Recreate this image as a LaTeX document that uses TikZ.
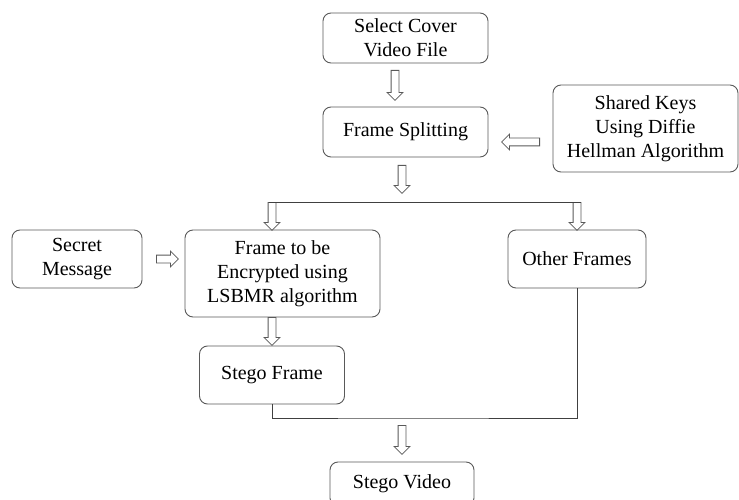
\documentclass[tikz,border=0pt]{standalone}
\usepackage{fontspec}
\setmainfont{Liberation Serif}
\usetikzlibrary{shapes.arrows}

\begin{document}
\begin{tikzpicture}[x=1pt, y=-1pt,
  box/.style={draw=black!65, line width=0.9pt, rounded corners=8pt, align=center,
    inner sep=2pt, font=\fontsize{20}{24}\selectfont},
  block/.style={single arrow, draw=black!65, line width=0.8pt, inner xsep=0pt,
    inner ysep=3.5pt, single arrow head extend=4pt, minimum width=0pt, anchor=tail}]
\useasboundingbox (0,0) rectangle (739,500);
\clip (0,0) rectangle (739,500);
\node     (select) at (405.5, 38)  [box, minimum width=165pt, minimum height=50pt] {Select Cover\\Video File};
\node      (split) at (405.5,132)  [box, minimum width=165pt, minimum height=50pt] {Frame Splitting};
\node       (keys) at (645.5,128.5)[box, minimum width=185pt, minimum height=87pt] {Shared Keys\\Using Diffie\\Hellman Algorithm};
\node     (secret) at (77, 259)    [box, minimum width=130pt, minimum height=58pt] {Secret\\Message};
\node    (encrypt) at (282.5,273.5)[box, minimum width=195pt, minimum height=87pt] {Frame to be\\Encrypted using\\LSBMR algorithm};
\node      (other) at (577, 259)   [box, minimum width=138pt, minimum height=58pt] {Other Frames};
\node (stegoframe) at (272, 375)   [box, minimum width=145pt, minimum height=58pt] {Stego Frame};
\node (stegovideo) at (402, 484)   [box, minimum width=144pt, minimum height=44pt] {Stego Video};
% block arrows
\node (a1) at (395, 70)  [block, rotate=-90, minimum height=30pt] {};
\node (a2) at (540,142)  [block, rotate=180, minimum height=38pt] {};
\node (a3) at (402,165)  [block, rotate=-90, minimum height=28pt] {};
\node (a4) at (272,202)  [block, rotate=-90, minimum height=28pt] {};
\node (a5) at (577,202)  [block, rotate=-90, minimum height=28pt] {};
\node (a6) at (156,259)  [block, minimum height=22pt] {};
\node (a7) at (272,317)  [block, rotate=-90, minimum height=28pt] {};
\node (a8) at (402,425)  [block, rotate=-90, minimum height=29pt] {};
\coordinate (join) at (402,418);
\draw [draw=black!75, line width=0.8pt] ([xshift=-3.5pt]a4.tail) -- ([xshift=3.5pt]a5.tail);
\draw [draw=black!75, line width=0.8pt] (stegoframe.south) |- (join) -| (other.south);
\end{tikzpicture}
\end{document}
